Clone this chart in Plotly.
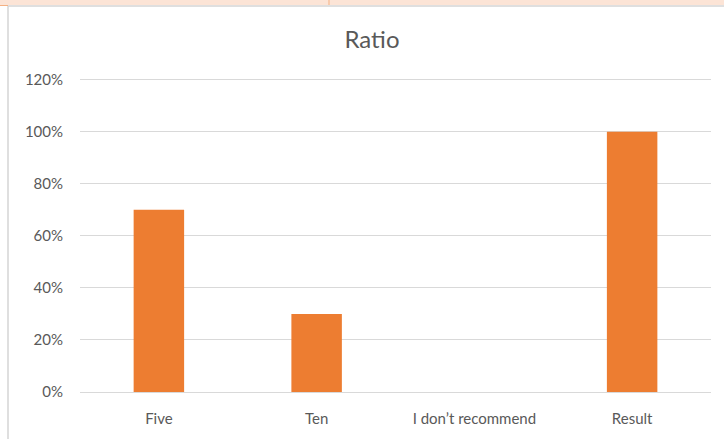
import plotly.graph_objects as go

categories = ["Five", "Ten", "I don\u2019t recommend", "Result"]
values = [0.70, 0.30, 0.0, 1.00]
tick_vals = [0, 0.2, 0.4, 0.6, 0.8, 1.0, 1.2]
tick_text = ["0%", "20%", "40%", "60%", "80%", "100%", "120%"]

W, H = 724, 439
L, R, T, B = 80, 13, 77, 47
pw, ph = W - L - R, H - T - B

def px_x(px):
    return (px - L) / pw

def px_y(py):
    return (H - B - py) / ph

fig = go.Figure(go.Bar(x=categories, y=values, marker=dict(color="#ED7D31", line=dict(width=0)),
                       hoverinfo="skip"))

shapes = [
    dict(type="rect", xref="paper", yref="paper", x0=px_x(0), x1=px_x(W), y0=px_y(5), y1=px_y(0),
         fillcolor="#FCE4D6", line=dict(width=0), layer="below"),
    dict(type="line", xref="paper", yref="paper", x0=px_x(8), x1=px_x(W), y0=px_y(6), y1=px_y(6),
         line=dict(color="#D4D4D4", width=1.5)),
    dict(type="line", xref="paper", yref="paper", x0=px_x(329), x1=px_x(329), y0=px_y(0), y1=px_y(5),
         line=dict(color="#F4B183", width=1)),
    dict(type="line", xref="paper", yref="paper", x0=px_x(0), x1=px_x(8), y0=px_y(5.5), y1=px_y(5.5),
         line=dict(color="#F4B183", width=1)),
    dict(type="line", xref="paper", yref="paper", x0=px_x(8), x1=px_x(8), y0=px_y(6), y1=px_y(H),
         line=dict(color="#D4D4D4", width=1.5)),
]

fig.update_layout(
    width=W, height=H,
    margin=dict(l=L, r=R, t=T, b=B),
    paper_bgcolor="white", plot_bgcolor="white",
    font=dict(family="Lato, Carlito, Calibri, sans-serif", color="#595959", size=15),
    title=dict(text="Ratio", x=372 / W, xanchor="center", y=1 - 40 / H, yanchor="middle",
               font=dict(size=24, color="#595959")),
    bargap=0.68,
    showlegend=False,
    shapes=shapes,
    xaxis=dict(showgrid=False, showline=True, linecolor="#D9D9D9", linewidth=1, ticks="",
               ticklabelstandoff=13, zeroline=False),
    yaxis=dict(range=[0, 1.21], tickvals=tick_vals, ticktext=tick_text, showgrid=True,
               gridcolor="#D9D9D9", gridwidth=1, zeroline=False, showline=False, ticks="",
               ticklabelstandoff=16),
)

fig.write_html("out.html")
